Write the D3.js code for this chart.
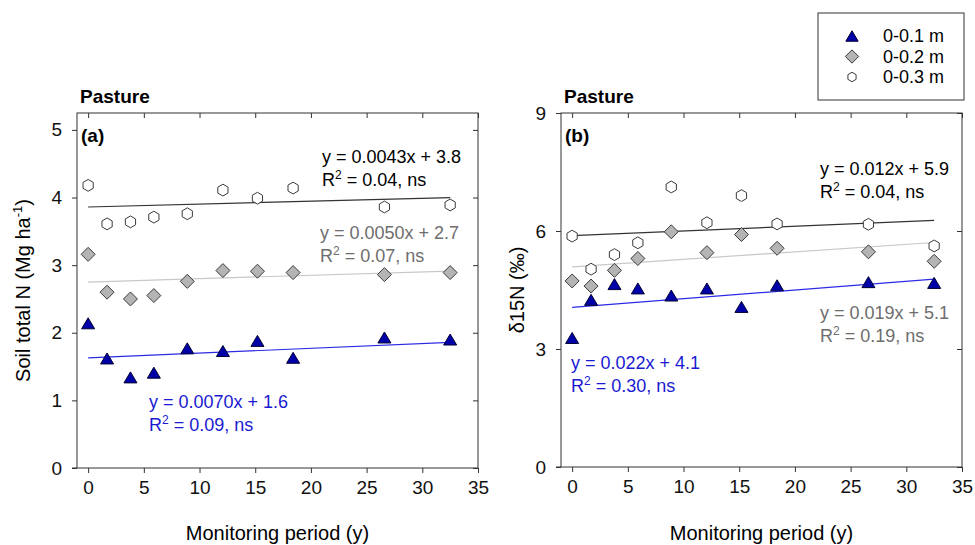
<!DOCTYPE html>
<html>
    <head>
        <meta charset="utf-8" />
        <script src="https://d3js.org/d3.v7.min.js"></script>
        <style>
            body {
                margin: 0;
                background-color: white;
            }
            svg {
                font-family: 'Liberation Sans', Arial, sans-serif;
            }
        </style>
    </head>
    <body>
        <svg></svg>
        <script>
            // monitoring years (x) shared by both panels
            const years = [0, 1.7, 3.8, 5.9, 8.9, 12.1, 15.2, 18.4, 26.6, 32.5]
            const depths = ['0-0.1 m', '0-0.2 m', '0-0.3 m']

            // (a) soil total N, Mg ha-1
            const soilN01 = [2.14, 1.62, 1.34, 1.41, 1.77, 1.73, 1.88, 1.63, 1.93, 1.9]
            const soilN02 = [3.16, 2.6, 2.5, 2.55, 2.76, 2.92, 2.91, 2.89, 2.86, 2.89]
            const soilN03 = [4.18, 3.61, 3.64, 3.71, 3.76, 4.11, 3.99, 4.14, 3.86, 3.89]
            const soilNSlopes = [0.007, 0.005, 0.0043]
            const soilNIntercepts = [1.63, 2.75, 3.86]
            const soilNEquations = ['y = 0.0070x + 1.6', 'y = 0.0050x + 2.7', 'y = 0.0043x + 3.8']
            const soilNR2 = [' = 0.09, ns', ' = 0.07, ns', ' = 0.04, ns']
            const soilNTicks = [0, 1, 2, 3, 4, 5]

            // (b) d15N, per mil
            const d15N01 = [3.28, 4.25, 4.65, 4.54, 4.36, 4.54, 4.07, 4.62, 4.7, 4.68]
            const d15N02 = [4.73, 4.6, 5.0, 5.3, 5.98, 5.45, 5.91, 5.56, 5.47, 5.23]
            const d15N03 = [5.87, 5.03, 5.4, 5.7, 7.12, 6.21, 6.9, 6.18, 6.17, 5.62]
            const d15NSlopes = [0.022, 0.019, 0.012]
            const d15NIntercepts = [4.06, 5.09, 5.88]
            const d15NEquations = ['y = 0.022x + 4.1', 'y = 0.019x + 5.1', 'y = 0.012x + 5.9']
            const d15NR2 = [' = 0.30, ns', ' = 0.19, ns', ' = 0.04, ns']
            const d15NTicks = [0, 3, 6, 9]

            const xTicks = [0, 5, 10, 15, 20, 25, 30, 35]

            const svg = d3.select('svg').attr('width', 975).attr('height', 545)

            const markerFill = ['#0000a8', '#b4b4b4', '#ffffff']
            const markerStroke = ['#000033', '#3a3a3a', '#3a3a3a']
            const lineColor = ['#2b2be6', '#c8c8c8', '#333333']
            const textColor = ['#1a1ad2', '#6e6e6e', '#000000']

            // symbol paths: triangle, diamond, hexagon
            function symbolPath(k, s) {
                s = s || 1
                if (k === 0) {
                    return `M0,${-5.5 * s}L${6.5 * s},${5.5 * s}L${-6.5 * s},${5.5 * s}Z`
                }
                if (k === 1) {
                    return `M0,${-7 * s}L${7 * s},0L0,${7 * s}L${-7 * s},0Z`
                }
                const r = 5.9 * s
                const pts = d3.range(6).map((i) => {
                    const a = ((-90 + i * 60) * Math.PI) / 180
                    return [r * Math.cos(a), r * Math.sin(a)]
                })
                return 'M' + pts.map((p) => p.join(',')).join('L') + 'Z'
            }

            function drawPanel(p) {
                const x = d3.scaleLinear().domain([-1, 35]).range([p.left, p.right])
                const y = d3.scaleLinear().domain(p.yDomain).range([p.bottom, p.top])
                const g = svg.append('g')

                // frame
                g.append('rect')
                    .attr('x', p.left)
                    .attr('y', p.top)
                    .attr('width', p.right - p.left)
                    .attr('height', p.bottom - p.top)
                    .style('fill', 'none')
                    .style('stroke', '#333')
                    .style('stroke-width', 1)

                // axes: outward on left/bottom, inward on top/right
                const bottomAxis = g.append('g')
                    .attr('transform', `translate(0,${p.bottom})`)
                    .call(d3.axisBottom(x).tickValues(xTicks).tickSize(5).tickPadding(8))
                const topAxis = g.append('g')
                    .attr('transform', `translate(0,${p.top})`)
                    .call(d3.axisBottom(x).tickValues(xTicks).tickSize(5).tickFormat(''))
                const leftAxis = g.append('g')
                    .attr('transform', `translate(${p.left},0)`)
                    .call(d3.axisLeft(y).tickValues(p.yTicks).tickFormat(d3.format('d')).tickSize(5).tickPadding(10))
                const rightAxis = g.append('g')
                    .attr('transform', `translate(${p.right},0)`)
                    .call(d3.axisLeft(y).tickValues(p.yTicks).tickSize(5).tickFormat(''))

                ;[bottomAxis, topAxis, leftAxis, rightAxis].forEach((a) => {
                    a.select('.domain').remove()
                    a.selectAll('line').style('stroke', '#333')
                    a.selectAll('text')
                        .style('font-size', '19px')
                        .style('font-family', "'Liberation Sans', Arial, sans-serif")
                        .style('fill', '#111')
                })
                // extend baseline out to the y=0 tick
                g.append('line')
                    .attr('x1', p.left - 5)
                    .attr('x2', p.left)
                    .attr('y1', p.bottom)
                    .attr('y2', p.bottom)
                    .style('stroke', '#333')

                // regression lines
                p.slopes.forEach((m, k) => {
                    const x0 = 0
                    const x1 = d3.max(years)
                    g.append('line')
                        .attr('x1', x(x0))
                        .attr('y1', y(p.intercepts[k] + m * x0))
                        .attr('x2', x(x1))
                        .attr('y2', y(p.intercepts[k] + m * x1))
                        .style('stroke', lineColor[k])
                        .style('stroke-width', 1.2)
                })

                // markers, hexagons first so triangles sit on top
                ;[2, 1, 0].forEach((k) => {
                    g.selectAll(null)
                        .data(p.series[k])
                        .enter()
                        .append('path')
                        .attr('d', symbolPath(k))
                        .attr('transform', (d, i) => `translate(${x(years[i])},${y(d)})`)
                        .style('fill', markerFill[k])
                        .style('stroke', markerStroke[k])
                        .style('stroke-width', 1)
                })

                // equation labels
                p.equations.forEach((eq, k) => {
                    const pos = p.eqPos[k]
                    const t = g.append('g').style('fill', textColor[k]).style('font-size', '18px')
                    t.append('text').attr('x', pos[0]).attr('y', pos[1]).text(eq)
                    const r = t.append('text').attr('x', pos[0]).attr('y', pos[1] + 22.5)
                    r.append('tspan').text('R')
                    r.append('tspan').attr('dy', -7).style('font-size', '12px').text('2')
                    r.append('tspan').attr('dy', 7).text(p.r2[k])
                })

                // titles
                g.append('text')
                    .attr('x', p.left + 3)
                    .attr('y', 103)
                    .style('font-weight', 'bold')
                    .style('font-size', '19px')
                    .text('Pasture')
                g.append('text')
                    .attr('x', p.left + 4)
                    .attr('y', 142)
                    .style('font-weight', 'bold')
                    .style('font-size', '19px')
                    .text(p.tag)
                g.append('text')
                    .attr('x', (p.left + p.right) / 2)
                    .attr('y', 540)
                    .attr('text-anchor', 'middle')
                    .style('font-size', '20px')
                    .text('Monitoring period (y)')

                const yt = g.append('text')
                    .attr('transform', `translate(${p.titleX},${(p.top + p.bottom) / 2}) rotate(-90)`)
                    .attr('text-anchor', 'middle')
                    .style('font-size', '20px')
                p.yTitle(yt)
            }

            drawPanel({
                left: 77,
                right: 478,
                top: 113,
                bottom: 468,
                yDomain: [0, 5.25],
                yTicks: soilNTicks,
                series: [soilN01, soilN02, soilN03],
                slopes: soilNSlopes,
                intercepts: soilNIntercepts,
                equations: soilNEquations,
                r2: soilNR2,
                eqPos: [[149, 408], [320, 239], [322, 163]],
                tag: '(a)',
                titleX: 30,
                yTitle: (t) => {
                    t.append('tspan').text('Soil total N (Mg ha')
                    t.append('tspan').attr('dy', -8).style('font-size', '13px').text('-1')
                    t.append('tspan').attr('dy', 8).text(')')
                },
            })

            drawPanel({
                left: 561,
                right: 962,
                top: 113,
                bottom: 467,
                yDomain: [0, 9],
                yTicks: d15NTicks,
                series: [d15N01, d15N02, d15N03],
                slopes: d15NSlopes,
                intercepts: d15NIntercepts,
                equations: d15NEquations,
                r2: d15NR2,
                eqPos: [[571, 369], [820, 319], [820, 175]],
                tag: '(b)',
                titleX: 524,
                yTitle: (t) => t.text('δ15N (‰)'),
            })

            // legend
            const legend = svg.append('g')
            legend.append('rect')
                .attr('x', 818)
                .attr('y', 13)
                .attr('width', 146)
                .attr('height', 87)
                .style('fill', 'white')
                .style('stroke', '#333')
            depths.forEach((d, k) => {
                const ly = 36 + k * 20.5
                legend.append('path')
                    .attr('d', symbolPath(k, k === 2 ? 0.8 : 0.95))
                    .attr('transform', `translate(852,${ly})`)
                    .style('fill', markerFill[k])
                    .style('stroke', markerStroke[k])
                legend.append('text')
                    .attr('x', 883)
                    .attr('y', ly + 6)
                    .style('font-size', '18px')
                    .text(d)
            })
        </script>
    </body>
</html>
